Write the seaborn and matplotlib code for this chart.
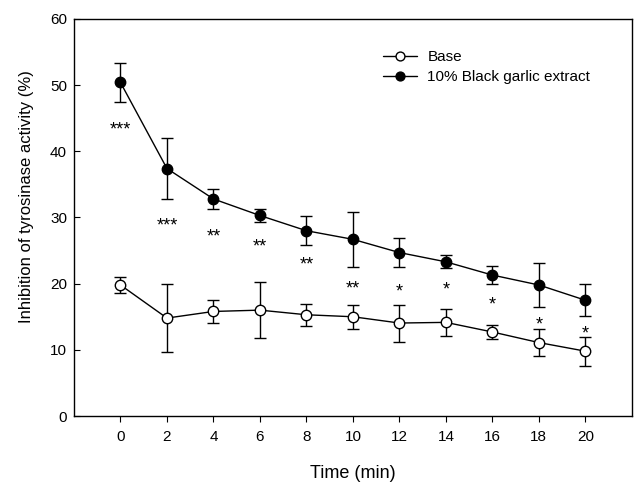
import numpy as np
import pandas as pd
import matplotlib
matplotlib.use('Agg')
import matplotlib.pyplot as plt
import seaborn as sns

# 데이터
time = [0, 2, 4, 6, 8, 10, 12, 14, 16, 18, 20]
base_mean = [19.8, 14.8, 15.8, 16.0, 15.3, 15.0, 14.05, 14.15, 12.7, 11.1, 9.8]
base_err = [1.2, 5.2, 1.8, 4.2, 1.65, 1.8, 2.8, 2.0, 1.0, 2.1, 2.2]
bg_mean = [50.4, 37.4, 32.8, 30.3, 28.0, 26.7, 24.7, 23.3, 21.3, 19.8, 17.5]
bg_err = [2.9, 4.6, 1.5, 1.0, 2.2, 4.2, 2.2, 1.0, 1.3, 3.3, 2.4]
star_labels = ['***', '***', '**', '**', '**', '**', '*', '*', '*', '*', '*']
star_y = [44.1, 29.6, 27.9, 26.4, 23.7, 20.1, 19.6, 19.9, 17.7, 14.7, 13.25]

sns.set_theme(style='ticks')
plt.rcParams['font.family'] = ['Liberation Sans', 'DejaVu Sans']
plt.rcParams['text.color'] = 'black'
plt.rcParams['axes.labelcolor'] = 'black'
plt.rcParams['xtick.color'] = 'black'
plt.rcParams['ytick.color'] = 'black'

base_df = pd.DataFrame({'time': time, 'value': base_mean})
bg_df = pd.DataFrame({'time': time, 'value': bg_mean})

fig = plt.figure(figsize=(6.35, 4.86), dpi=100)
ax = fig.add_axes([0.1165, 0.144, 0.8785, 0.817])

# 오차막대
ax.errorbar(time, base_mean, yerr=base_err, fmt='none', ecolor='black',
            elinewidth=1, capsize=4, capthick=1, zorder=1)
ax.errorbar(time, bg_mean, yerr=bg_err, fmt='none', ecolor='black',
            elinewidth=1, capsize=4, capthick=1, zorder=1)

# 선 + 마커
sns.lineplot(data=base_df, x='time', y='value', color='black', marker='o',
             linewidth=1, markersize=7.5, label='Base', ax=ax, zorder=3)
ln_base = ax.get_lines()[-1]
sns.lineplot(data=bg_df, x='time', y='value', color='black', marker='o',
             linewidth=1, markersize=7.5, label='10% Black garlic extract', ax=ax, zorder=3)
ln_bg = ax.get_lines()[-1]
for ln, fc in [(ln_base, 'white'), (ln_bg, 'black')]:
    ln.set_markerfacecolor(fc)
    ln.set_markeredgecolor('black')
    ln.set_markeredgewidth(1)

# 유의성 표시
for t, s, y in zip(time, star_labels, star_y):
    ax.annotate(s, (t, y), xytext=(0, -7.5), textcoords='offset points',
                ha='center', va='baseline', fontsize=13)

ax.set_xlim(-2, 22)
ax.set_ylim(0, 60)
ax.set_xticks(np.arange(0, 21, 2))
ax.set_yticks(np.arange(0, 61, 10))
ax.tick_params(axis='y', direction='in', length=4.3, width=0.8, labelsize=11, pad=5)
ax.tick_params(axis='x', direction='out', length=4.3, width=0.8, labelsize=11, pad=6)
for sp in ax.spines.values():
    sp.set_linewidth(1)
    sp.set_color('black')

ax.set_xlabel('Time (min)', fontsize=13)
ax.set_ylabel('Inhibition of tyrosinase activity (%)', fontsize=12)
ax.xaxis.set_label_coords(0.5, -0.123)
ax.yaxis.set_label_coords(-0.0717, 0.552)

# 범례
h, l = ax.get_legend_handles_labels()
ax.legend(h, l, loc='upper left', bbox_to_anchor=(0.554, 0.922), frameon=False,
          fontsize=11, handlelength=2.2, handletextpad=0.7, labelspacing=0.4,
          borderpad=0, borderaxespad=0, markerscale=0.85)

plt.savefig('out.png', dpi=100)
